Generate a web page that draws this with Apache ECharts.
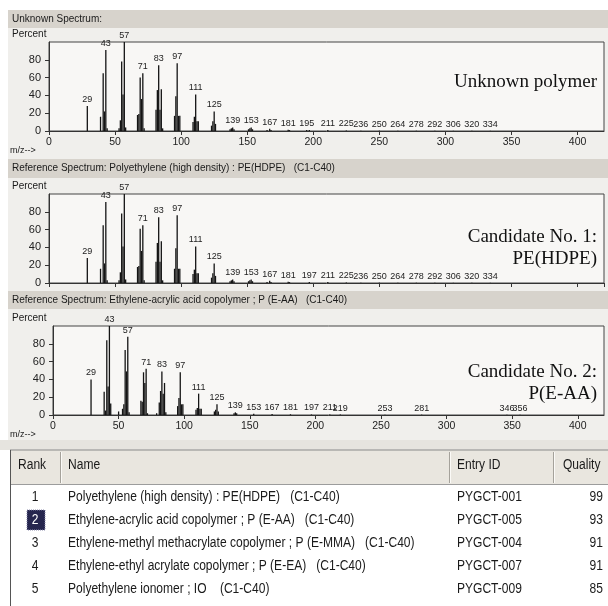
<!DOCTYPE html>
<html>
<head>
<meta charset="utf-8">
<script src="https://cdn.jsdelivr.net/npm/echarts@6/dist/echarts.min.js"></script>
<style>
  html, body { margin: 0; padding: 0; background: #ffffff; }
  #chart { width: 608px; height: 606px; }
</style>
</head>
<body>
<div id="chart"></div>
<script>
// ---------- data ----------
const peaksUnknown = [
  [29, 28],
  [39, 16], [41, 65], [42, 22], [43, 91], [44, 3],
  [53, 3], [54, 12], [55, 78], [56, 41], [57, 100], [58, 4],
  [67, 18], [68, 19], [69, 60], [70, 36], [71, 65], [72, 3],
  [81, 24], [82, 46], [83, 74], [84, 24], [85, 47], [86, 3],
  [95, 17], [96, 39], [97, 76], [98, 17], [99, 17],
  [109, 10], [110, 16], [111, 41], [112, 11], [113, 11],
  [123, 6], [124, 11], [125, 22], [126, 8],
  [137, 2], [138, 3], [139, 4], [140, 2],
  [151, 2], [152, 3], [153, 4], [154, 2],
  [165, 1], [167, 2.5], [168, 1],
  [181, 1.5], [182, 1],
  [195, 1], [197, 1],
  [211, 1], [225, 0.6], [236, 0.4], [250, 0.4], [264, 0.3], [278, 0.3],
  [292, 0.3], [306, 0.2], [320, 0.2], [334, 0.2]
];
const labelsUnknown = [29, 43, 57, 71, 83, 97, 111, 125, 139, 153, 167, 181, 195, 211,
  225, 236, 250, 264, 278, 292, 306, 320, 334];

const peaksHDPE = [
  [29, 28],
  [39, 16], [41, 65], [42, 22], [43, 91], [44, 3],
  [53, 3], [54, 12], [55, 78], [56, 41], [57, 100], [58, 4],
  [67, 18], [68, 19], [69, 61], [70, 36], [71, 65], [72, 3],
  [81, 24], [82, 45], [83, 74], [84, 24], [85, 47], [86, 3],
  [95, 16], [96, 39], [97, 76], [98, 16], [99, 16],
  [109, 10], [110, 15], [111, 41], [112, 11], [113, 11],
  [123, 6], [124, 11], [125, 22], [126, 8],
  [137, 2], [138, 3], [139, 4], [140, 2],
  [151, 2], [152, 3], [153, 4], [154, 2],
  [165, 1], [167, 2.5], [168, 1],
  [181, 1.5], [182, 1],
  [197, 1],
  [211, 1], [225, 0.6], [236, 0.4], [250, 0.4], [264, 0.3], [278, 0.3],
  [292, 0.3], [306, 0.2], [320, 0.2], [334, 0.2]
];
const labelsHDPE = [29, 43, 57, 71, 83, 97, 111, 125, 139, 153, 167, 181, 197, 211,
  225, 236, 250, 264, 278, 292, 306, 320, 334];

const peaksEAA = [
  [29, 40],
  [39, 26], [40, 5], [41, 84], [42, 32], [43, 100], [44, 13],
  [50, 4],
  [53, 7], [54, 12], [55, 73], [56, 49], [57, 88], [58, 3],
  [67, 16], [68, 15], [69, 48], [70, 36], [71, 52], [72, 2],
  [79, 2], [81, 14], [82, 27], [83, 49], [84, 24], [85, 36], [86, 3],
  [95, 10], [96, 19], [97, 48], [98, 12], [99, 12],
  [109, 6], [110, 8], [111, 24], [112, 7], [113, 7],
  [123, 4], [124, 6], [125, 12], [126, 4],
  [138, 2], [139, 3], [140, 2],
  [153, 1.5], [167, 1], [181, 0.8], [197, 0.6], [211, 0.6], [219, 0.5],
  [253, 0.4], [281, 0.4], [346, 0.3], [356, 0.3]
];
const labelsEAA = [29, 43, 57, 71, 83, 97, 111, 125, 139, 153, 167, 181, 197, 211, 219,
  253, 281, 346, 356];

const xTicks = [0, 50, 100, 150, 200, 250, 300, 350, 400];
const yTicks = [0, 20, 40, 60, 80];

const panelTitles = [
  'Unknown Spectrum:',
  'Reference Spectrum: Polyethylene (high density) : PE(HDPE)   (C1-C40)',
  'Reference Spectrum: Ethylene-acrylic acid copolymer ; P (E-AA)   (C1-C40)'
];
const panelNotes = [
  ['Unknown polymer'],
  ['Candidate No. 1:', 'PE(HDPE)'],
  ['Candidate No. 2:', 'P(E-AA)']
];

const tableHeader = ['Rank', 'Name', 'Entry ID', 'Quality'];
const tableRanks = ['1', '2', '3', '4', '5'];
const tableNames = [
  'Polyethylene (high density) : PE(HDPE)   (C1-C40)',
  'Ethylene-acrylic acid copolymer ; P (E-AA)   (C1-C40)',
  'Ethylene-methyl methacrylate copolymer ; P (E-MMA)   (C1-C40)',
  'Ethylene-ethyl acrylate copolymer ; P (E-EA)   (C1-C40)',
  'Polyethylene ionomer ; IO    (C1-C40)'
];
const tableIds = ['PYGCT-001', 'PYGCT-005', 'PYGCT-004', 'PYGCT-007', 'PYGCT-009'];
const tableQuality = [99, 93, 91, 91, 85];
const selectedRank = 2;

// ---------- layout ----------
const SANS = '"Liberation Sans", Arial, sans-serif';
const SERIF = '"Liberation Serif", "Times New Roman", serif';
const grids = [
  { left: 49, top: 42, width: 555, height: 89 },
  { left: 49, top: 194, width: 555, height: 89 },
  { left: 53, top: 326, width: 551, height: 89 }
];
const headerBars = [[10, 28], [159, 178], [291, 309]];
const showXLabels = [true, false, true];
const allPeaks = [peaksUnknown, peaksHDPE, peaksEAA];
const allLabels = [labelsUnknown, labelsHDPE, labelsEAA];

const xAxes = [], yAxes = [], series = [];
grids.forEach((g, i) => {
  xAxes.push({
    type: 'value', gridIndex: i, min: 0, max: 420, interval: 50,
    axisLine: { lineStyle: { color: '#333', width: 1 } },
    axisTick: { show: true, length: 4, lineStyle: { color: '#333' } },
    axisLabel: {
      show: showXLabels[i], showMaxLabel: false, margin: 6,
      fontSize: 10.5, color: '#222', fontFamily: SANS,
      formatter: v => (xTicks.indexOf(v) >= 0 ? String(v) : '')
    },
    splitLine: { show: false }
  });
  yAxes.push({
    type: 'value', gridIndex: i, min: 0, max: 100, interval: 20,
    axisLine: { show: true, lineStyle: { color: '#333', width: 1 } },
    axisTick: { show: true, length: 4, lineStyle: { color: '#333' } },
    axisLabel: {
      showMaxLabel: false, margin: 8, fontSize: 11, color: '#222', fontFamily: SANS,
      formatter: v => (yTicks.indexOf(v) >= 0 ? String(v) : '')
    },
    splitLine: { show: false }
  });
  const labs = allLabels[i];
  series.push({
    type: 'bar', xAxisIndex: i, yAxisIndex: i,
    barWidth: 1.3,
    itemStyle: { color: '#141414' },
    label: {
      position: 'top', distance: 2, fontSize: 9, color: '#222', fontFamily: SANS
    },
    data: allPeaks[i].map(p => ({
      value: p,
      label: { show: labs.indexOf(p[0]) >= 0, formatter: String(p[0]) }
    })),
    animation: false
  });
});

// ---------- graphics ----------
const graphic = [];
// panel background
graphic.push({ type: 'rect', z: -20, shape: { x: 8, y: 10, width: 600, height: 432 },
  style: { fill: '#f0efec' } });
headerBars.forEach((b, i) => {
  graphic.push({ type: 'rect', z: -10, shape: { x: 8, y: b[0], width: 600, height: b[1] - b[0] },
    style: { fill: '#d7d3cc' } });
  graphic.push({ type: 'text', z: 10, x: 12, y: (b[0] + b[1]) / 2,
    style: { text: panelTitles[i], font: '10px ' + SANS, fill: '#1a1a1a', verticalAlign: 'middle' } });
});
grids.forEach((g, i) => {
  graphic.push({ type: 'text', z: 10, x: 12, y: g.top - 8,
    style: { text: 'Percent', font: '10px ' + SANS, fill: '#1a1a1a', verticalAlign: 'middle' } });
  if (showXLabels[i]) {
    graphic.push({ type: 'text', z: 10, x: 10, y: g.top + g.height + 20,
      style: { text: 'm/z-->', font: '9px ' + SANS, fill: '#1a1a1a', verticalAlign: 'middle' } });
  }
});
const noteY = [[82], [237, 259], [372, 394]];
panelNotes.forEach((lines, i) => {
  lines.forEach((t, j) => {
    graphic.push({ type: 'text', z: 20, x: 597, y: noteY[i][j],
      style: { text: t, font: '19px ' + SERIF, fill: '#111', align: 'right', verticalAlign: 'middle' } });
  });
});

// table
const colSep = [60, 449, 553];
graphic.push({ type: 'rect', z: -20, shape: { x: 0, y: 440, width: 608, height: 10 },
  style: { fill: '#e6e4df' } });
graphic.push({ type: 'rect', z: -15, shape: { x: 10, y: 450, width: 598, height: 34 },
  style: { fill: '#e9e6df' } });
graphic.push({ type: 'rect', z: -15, shape: { x: 10, y: 484, width: 598, height: 122 },
  style: { fill: '#ffffff' } });
graphic.push({ type: 'line', z: 5, shape: { x1: 10, y1: 450, x2: 608, y2: 450 },
  style: { stroke: '#8a8a8a', lineWidth: 1 } });
graphic.push({ type: 'line', z: 5, shape: { x1: 10, y1: 484.5, x2: 608, y2: 484.5 },
  style: { stroke: '#9c9c9c', lineWidth: 1 } });
graphic.push({ type: 'line', z: 5, shape: { x1: 10.5, y1: 450, x2: 10.5, y2: 606 },
  style: { stroke: '#555', lineWidth: 1 } });
colSep.forEach(x => {
  graphic.push({ type: 'line', z: 5, shape: { x1: x + 0.5, y1: 452, x2: x + 0.5, y2: 483 },
    style: { stroke: '#a5a29b', lineWidth: 1 } });
  graphic.push({ type: 'line', z: 5, shape: { x1: x + 1.5, y1: 452, x2: x + 1.5, y2: 483 },
    style: { stroke: '#fbfaf7', lineWidth: 1 } });
});
const headerX = [18, 68, 457, 563];
const tfont = '14px ' + SANS;
tableHeader.forEach((h, k) => {
  graphic.push({ type: 'text', z: 10, x: headerX[k], y: 465, scaleX: 0.86,
    style: { text: h, font: tfont, fill: '#1a1a1a', verticalAlign: 'middle' } });
});
tableRanks.forEach((r, i) => {
  const y = 497 + 23 * i;
  const sel = Number(r) === selectedRank;
  if (sel) {
    graphic.push({ type: 'rect', z: 6, shape: { x: 27, y: y - 10, width: 18, height: 20 },
      style: { fill: '#26264e', stroke: '#8888aa', lineDash: [1, 1], lineWidth: 1 } });
  }
  graphic.push({ type: 'text', z: 10, x: 35, y: y, scaleX: 0.86,
    style: { text: r, font: tfont, fill: sel ? '#ffffff' : '#1a1a1a', align: 'center', verticalAlign: 'middle' } });
  graphic.push({ type: 'text', z: 10, x: 68, y: y, scaleX: 0.86,
    style: { text: tableNames[i], font: tfont, fill: '#1a1a1a', verticalAlign: 'middle' } });
  graphic.push({ type: 'text', z: 10, x: 457, y: y, scaleX: 0.86,
    style: { text: tableIds[i], font: tfont, fill: '#1a1a1a', verticalAlign: 'middle' } });
  graphic.push({ type: 'text', z: 10, x: 603, y: y, scaleX: 0.86,
    style: { text: String(tableQuality[i]), font: tfont, fill: '#1a1a1a', align: 'right', verticalAlign: 'middle' } });
});

const option = {
  backgroundColor: '#ffffff',
  animation: false,
  grid: grids.map(g => Object.assign({
    show: true, backgroundColor: '#f8f7f5', borderColor: '#444', borderWidth: 1, containLabel: false
  }, g)),
  xAxis: xAxes,
  yAxis: yAxes,
  series: series,
  graphic: graphic
};

const chart = echarts.init(document.getElementById('chart'), null, { renderer: 'canvas' });
chart.setOption(option);
</script>
</body>
</html>
